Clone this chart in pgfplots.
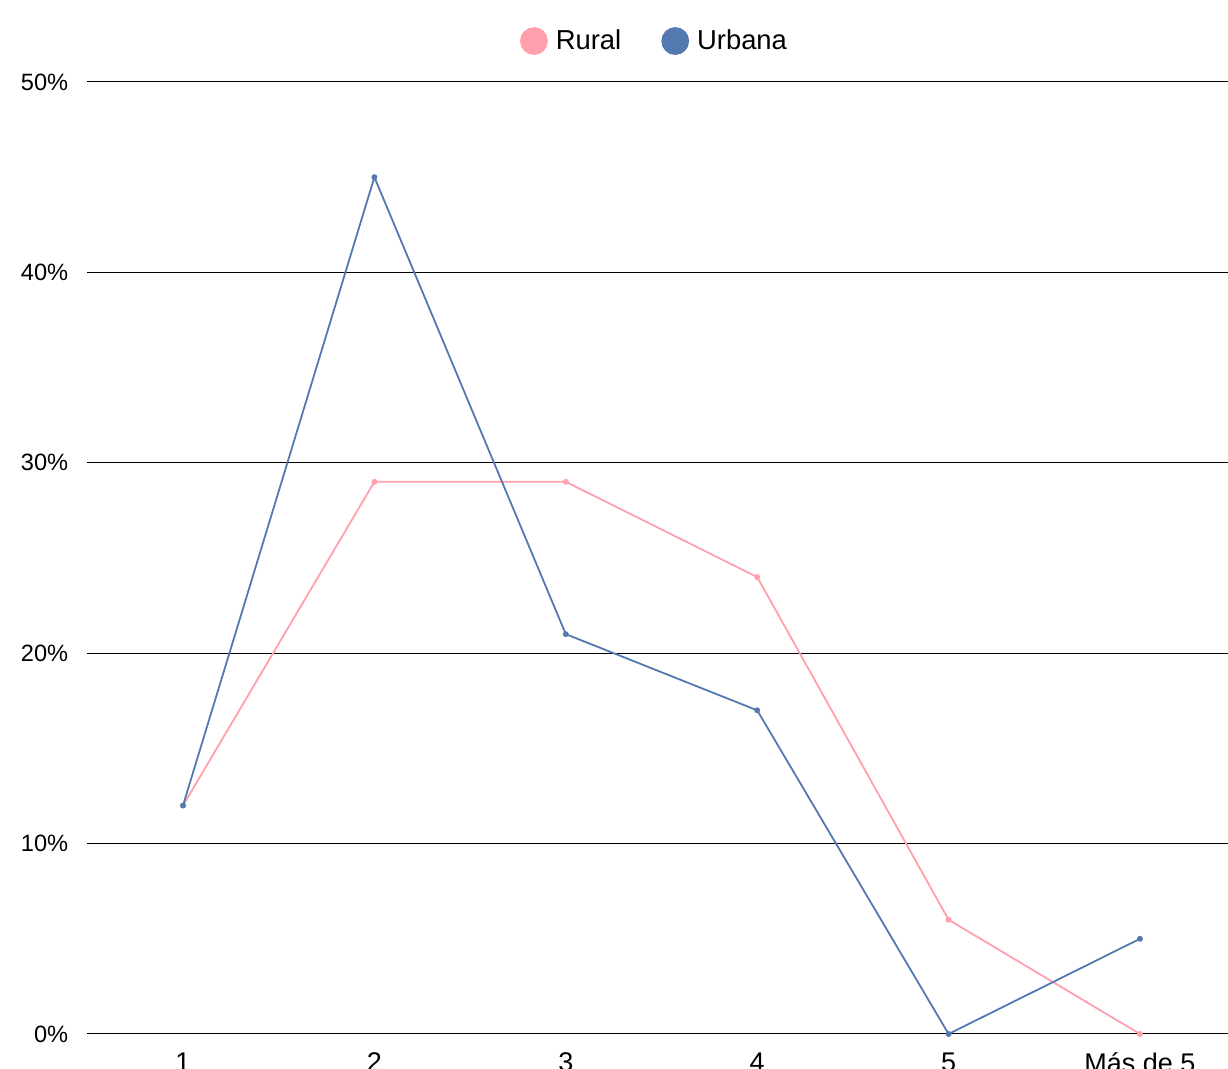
\documentclass[border=0pt]{standalone}
\usepackage{pgfplots}
\pgfplotsset{compat=1.18}
\usepackage{fontspec}
\setmainfont{Liberation Sans}
\definecolor{rural}{RGB}{255,160,172}
\definecolor{urbana}{RGB}{84,120,176}
\begin{document}
\begin{tikzpicture}
\path[use as bounding box] (-43.65pt,-17.5pt) rectangle (570.35pt,517pt);
\clip (-43.65pt,-17.5pt) rectangle (570.35pt,517pt);
\begin{axis}[
  at={(0pt,0pt)}, anchor=south west,
  scale only axis, width=574.2pt, height=476pt,
  xmin=-0.5, xmax=5.5, ymin=0, ymax=50,
  axis line style={draw=none},
  xtick={0,1,2,3,4,5},
  xticklabels={1,2,3,4,5,Más de 5},
  ytick={0,10,20,30,40,50},
  yticklabel={\pgfmathprintnumber{\tick}\%},
  /pgf/number format/assume math mode=true,
  major tick length=0pt,
  ymajorgrids, grid style={black, line width=0.5pt},
  yticklabel style={xshift=-6pt, font=\fontsize{11.8}{14}\selectfont},
  xticklabel style={yshift=-6pt, font=\fontsize{13.5}{16}\selectfont},
  legend style={at={(0.4948,1.043)}, anchor=center, draw=none, legend columns=2,
    font=\fontsize{13.7}{16}\selectfont, column sep=2pt,
    /tikz/every even column/.append style={column sep=18pt}},
  legend image code/.code={\fill[#1] (0pt,0pt) circle (6.5pt);},
  clip=false,
]
\addplot[rural, line width=0.9pt, mark=*, mark size=1pt] coordinates {(0,12) (1,29) (2,29) (3,24) (4,6) (5,0)};
\addlegendentry{Rural}
\addplot[urbana, line width=0.9pt, mark=*, mark size=1pt] coordinates {(0,12) (1,45) (2,21) (3,17) (4,0) (5,5)};
\addlegendentry{Urbana}
\end{axis}
\end{tikzpicture}
\end{document}
